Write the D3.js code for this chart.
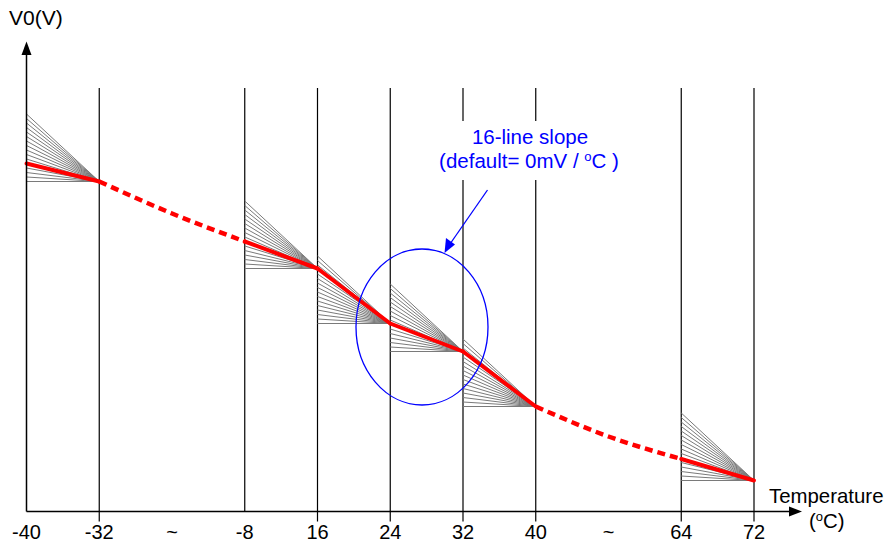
<!DOCTYPE html>
<html>
<head>
<meta charset="utf-8">
<script src="https://cdn.jsdelivr.net/npm/d3@7"></script>
<style>
  body { margin: 0; background: #fff; }
  text { font-family: Arial, "Liberation Sans", sans-serif; }
</style>
</head>
<body>
<svg width="888" height="545"></svg>
<script>
// tick labels along the temperature axis ("~" marks a skipped range)
const tickLabels = ["-40", "-32", "~", "-8", "16", "24", "32", "40", "~", "64", "72"];
// V0 of the red curve at each tick (arbitrary units)
const v0 = [348, 330, 298, 270, 243, 188, 160, 105, 75, 52.5, 31];
// solid segments (index pairs) that also carry a 16-line fan
const solidSegs = [[0, 1], [3, 4], [4, 5], [5, 6], [6, 7], [9, 10]];
// dashed (skipped) spans
const dashedSpans = [[1, 2, 3], [7, 8, 9]];
// 16 fan lines: start offset above the segment end value
const fanOffsets = [0, 4.5, 9, 13.5, 18, 22.5, 27, 31.5, 36, 40.5, 45, 49.5, 54, 58.5, 63, 67.5];
// ticks that get a vertical grid line
const gridTicks = [1, 3, 4, 5, 6, 7, 9, 10];
const shortTicks = [3];

var svg = d3.select("svg");

var x = d3.scalePoint()
    .domain(d3.range(tickLabels.length))
    .range([26.5, 754]);

var y = d3.scaleLinear()
    .domain([0, 470])
    .range([511.5, 41.5]);

const y0 = y(0);

// vertical lines
svg.append("g")
    .selectAll("line")
    .data(gridTicks)
    .enter().append("line")
    .attr("x1", d => x(d)).attr("x2", d => x(d))
    .attr("y1", 88)
    .attr("y2", d => shortTicks.includes(d) ? y0 : y0 + 10)
    .attr("stroke", "#000")
    .attr("stroke-width", 1.2);

// fans
var fans = svg.append("g");
solidSegs.forEach(s => {
    fans.selectAll(null)
        .data(fanOffsets)
        .enter().append("line")
        .attr("x1", x(s[0]))
        .attr("y1", d => y(v0[s[1]] + d))
        .attr("x2", x(s[1]))
        .attr("y2", y(v0[s[1]]))
        .attr("stroke", "#7a7a7a")
        .attr("stroke-width", 1);
});

// red curve
var line = d3.line()
    .x(d => x(d))
    .y(d => y(v0[d]));

svg.append("g")
    .selectAll("path")
    .data(solidSegs)
    .enter().append("path")
    .attr("d", d => line(d))
    .attr("fill", "none")
    .attr("stroke", "#ff0000")
    .attr("stroke-width", 4)
    .attr("stroke-linecap", "round");

svg.append("g")
    .selectAll("path")
    .data(dashedSpans)
    .enter().append("path")
    .attr("d", d => line.curve(d3.curveMonotoneX)(d))
    .attr("fill", "none")
    .attr("stroke", "#ff0000")
    .attr("stroke-width", 4.5)
    .attr("stroke-dasharray", "8,5");

// axes
svg.append("line")
    .attr("x1", x(0)).attr("y1", y0)
    .attr("x2", 790).attr("y2", y0)
    .attr("stroke", "#000").attr("stroke-width", 1.5);
svg.append("path")
    .attr("d", `M802,${y0} L789,${y0 - 5} L789,${y0 + 5} Z`)
    .attr("fill", "#000");
svg.append("line")
    .attr("x1", x(0)).attr("y1", y0)
    .attr("x2", x(0)).attr("y2", 54)
    .attr("stroke", "#000").attr("stroke-width", 1.5);
svg.append("path")
    .attr("d", `M${x(0)},41.5 L${x(0) - 5},55 L${x(0) + 5},55 Z`)
    .attr("fill", "#000");

// tick labels
svg.append("g")
    .selectAll("text")
    .data(tickLabels)
    .enter().append("text")
    .attr("x", (d, i) => x(i))
    .attr("y", 539)
    .attr("text-anchor", "middle")
    .attr("font-size", 20)
    .text(d => d);

// axis titles
svg.append("text")
    .attr("x", 9).attr("y", 25)
    .attr("font-size", 21)
    .text("V0(V)");
svg.append("text")
    .attr("x", 769).attr("y", 503)
    .attr("font-size", 20.4)
    .text("Temperature");
var degC = svg.append("text")
    .attr("x", 809).attr("y", 528)
    .attr("font-size", 20.4);
degC.append("tspan").text("(");
degC.append("tspan").attr("font-size", 13).attr("dy", -7).text("o");
degC.append("tspan").attr("dy", 7).text("C)");

// annotation
svg.append("rect")
    .attr("x", 425).attr("y", 121)
    .attr("width", 205).attr("height", 59)
    .attr("fill", "#fff");

svg.append("ellipse")
    .attr("cx", 422).attr("cy", 327)
    .attr("rx", 66).attr("ry", 78)
    .attr("fill", "none")
    .attr("stroke", "#0000ff")
    .attr("stroke-width", 1.3);

svg.append("line")
    .attr("x1", 487.5).attr("y1", 190)
    .attr("x2", 450).attr("y2", 244)
    .attr("stroke", "#0000ff").attr("stroke-width", 1.3);
svg.append("path")
    .attr("d", "M444.5,253 L446,238 L455,244.5 Z")
    .attr("fill", "#0000ff");

svg.append("text")
    .attr("x", 530).attr("y", 144)
    .attr("text-anchor", "middle")
    .attr("font-size", 20.5)
    .attr("fill", "#0000ff")
    .text("16-line slope");
var note = svg.append("text")
    .attr("x", 529).attr("y", 168)
    .attr("text-anchor", "middle")
    .attr("font-size", 20.5)
    .attr("fill", "#0000ff");
note.append("tspan").text("(default= 0mV / ");
note.append("tspan").attr("font-size", 13).attr("dy", -7).text("o");
note.append("tspan").attr("dy", 7).text("C )");
</script>
</body>
</html>
